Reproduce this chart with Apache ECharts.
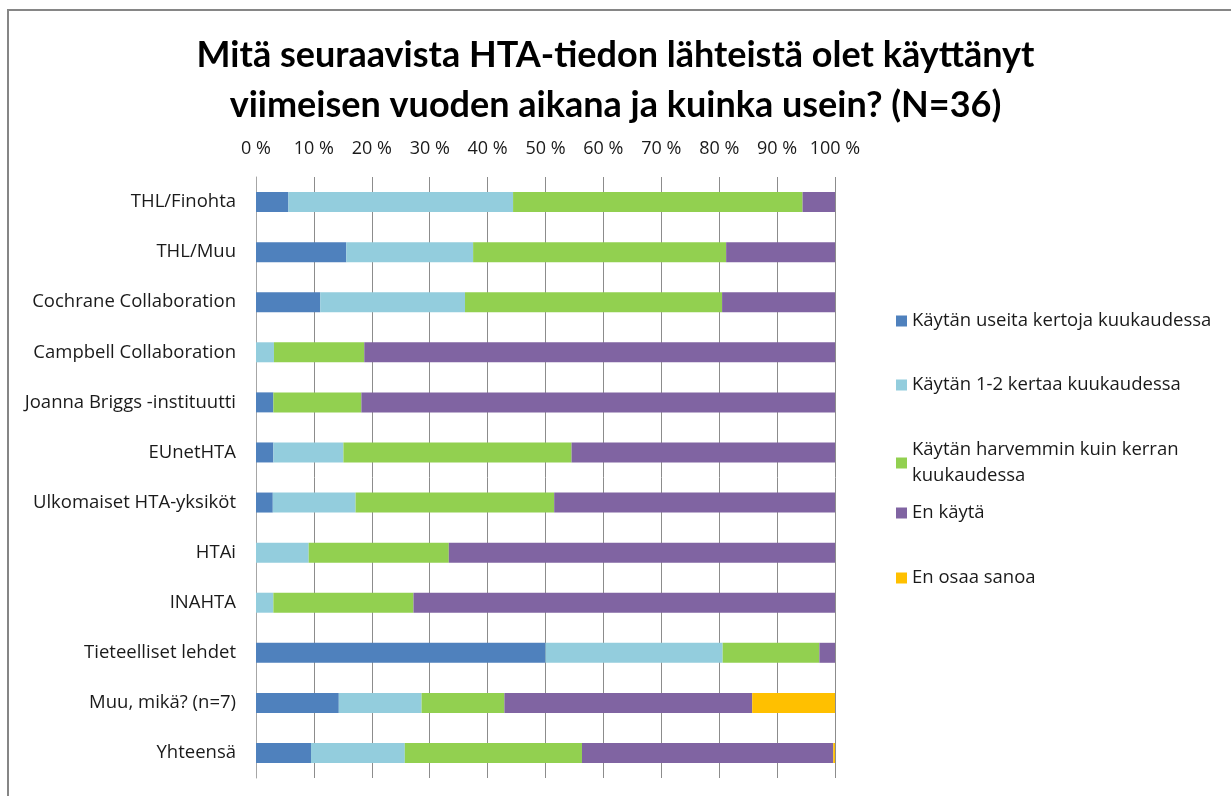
<!DOCTYPE html>
<html>
<head>
<meta charset="utf-8">
<script src="https://cdn.jsdelivr.net/npm/echarts@6/dist/echarts.min.js"></script>
<style>
  html, body { margin: 0; padding: 0; background: #fff; }
  #frame { position: absolute; left: 7px; top: 9px; width: 1224px; height: 787px;
           border-top: 2px solid #868686; border-left: 2px solid #868686; box-sizing: border-box; }
  #chart { position: absolute; left: 0; top: 0; width: 1231px; height: 796px; }
</style>
</head>
<body>
<div id="frame"></div>
<div id="chart"></div>
<script>
var categories = ['THL/Finohta', 'THL/Muu', 'Cochrane Collaboration', 'Campbell Collaboration',
    'Joanna Briggs -instituutti', 'EUnetHTA', 'Ulkomaiset HTA-yksiköt', 'HTAi', 'INAHTA',
    'Tieteelliset lehdet', 'Muu, mikä? (n=7)', 'Yhteensä'];

var seriesNames = ['Käytän useita kertoja kuukaudessa', 'Käytän 1-2 kertaa kuukaudessa',
    'Käytän harvemmin kuin kerran kuukaudessa', 'En käytä', 'En osaa sanoa'];

// percentages per category
var useita    = [5.6, 15.6, 11.1, 0,    3.0,  3.0,  2.9,  0,    0,    50.0, 14.3, 9.5];
var kertaa12  = [38.8, 21.9, 25.0, 3.1, 0,    12.1, 14.3, 9.1,  3.0,  30.6, 14.3, 16.2];
var harvemmin = [50.0, 43.7, 44.4, 15.6, 15.2, 39.4, 34.3, 24.2, 24.2, 16.7, 14.3, 30.6];
var enKayta   = [5.6, 18.8, 19.5, 81.3, 81.8, 45.5, 48.5, 66.7, 72.8, 2.7,  42.8, 43.4];
var enOsaa    = [0,   0,    0,    0,    0,    0,    0,    0,    0,    0,    14.3, 0.3];

var xTicks = [0, 10, 20, 30, 40, 50, 60, 70, 80, 90, 100];

var colors = ['#4F81BD', '#93CDDD', '#92D050', '#8064A2', '#FFC000'];
var font = '"Open Sans", sans-serif';

var values = [useita, kertaa12, harvemmin, enKayta, enOsaa];
var series = values.map(function (d, i) {
    return {
        name: seriesNames[i],
        type: 'bar',
        stack: 'total',
        barWidth: 20,
        itemStyle: { color: colors[i] },
        data: d
    };
});

var legendTops = [308, 372, 437, 500, 565];
var legends = seriesNames.map(function (n, i) {
    return {
        data: [n],
        orient: 'vertical',
        left: 896,
        top: legendTops[i],
        padding: 0,
        itemWidth: 11,
        itemHeight: 11,
        icon: 'rect',
        selectedMode: false,
        formatter: function (name) {
            return name === 'Käytän harvemmin kuin kerran kuukaudessa'
                ? 'Käytän harvemmin kuin kerran\nkuukaudessa' : name;
        },
        textStyle: { fontFamily: font, fontSize: 18.5, color: '#1a1a1a', lineHeight: 26 }
    };
});

var myChart = echarts.init(document.getElementById('chart'));
myChart.setOption({
    animation: false,
    title: {
        text: 'Mitä seuraavista HTA-tiedon lähteistä olet käyttänyt\nviimeisen vuoden aikana ja kuinka usein? (N=36)',
        left: 'center',
        top: 25,
        textStyle: { fontFamily: 'Lato, sans-serif', fontSize: 36, fontWeight: 'bold', color: '#000', lineHeight: 50 }
    },
    legend: legends,
    grid: { left: 256, right: 396, top: 177, bottom: 18 },
    xAxis: {
        type: 'value',
        position: 'top',
        min: xTicks[0],
        max: xTicks[xTicks.length - 1],
        interval: 10,
        axisLine: { show: false },
        axisTick: { show: false },
        axisLabel: { formatter: '{value} %', fontFamily: font, fontSize: 18, color: '#1a1a1a', margin: 19 },
        splitLine: { lineStyle: { color: '#8c8c8c', width: 1 } }
    },
    yAxis: {
        type: 'category',
        inverse: true,
        data: categories,
        axisLine: { lineStyle: { color: '#a6a6a6' } },
        axisTick: { length: 8, lineStyle: { color: '#8c8c8c' } },
        axisLabel: { fontFamily: font, fontSize: 18.5, color: '#1a1a1a', margin: 20 }
    },
    series: series
});
</script>
</body>
</html>
